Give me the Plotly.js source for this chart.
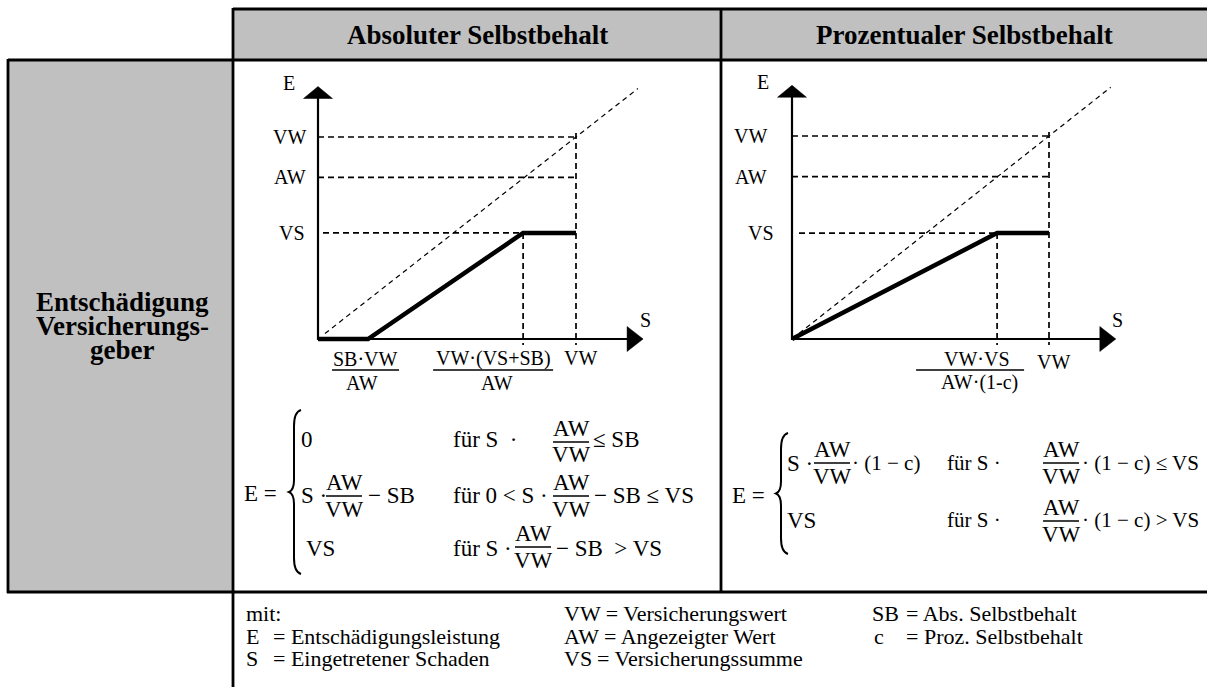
<!DOCTYPE html>
<html><head><meta charset="utf-8">
<script src="https://cdn.plot.ly/plotly-3.0.1.min.js"></script>
<style>html,body{margin:0;padding:0;background:#fff;} #chart{width:1207px;height:687px;}</style>
</head><body><div id="chart"></div>
<script>
const W = 1207, H = 687;

// ---------------- data (schematic values, VW = 100) ----------------
const levelNames   = ['VW', 'AW', 'VS'];
const absLevels    = [100, 80, 52.5];
const absCurveS    = [0, 19.4, 79.5, 100];
const absCurveE    = [0, 0, 52.5, 52.5];
const absBreakS    = [19.4, 79.5, 100];
const absBreakNum  = ['SB·VW', 'VW·(VS+SB)', 'VW'];
const absBreakDen  = ['AW', 'AW', ''];
const proLevels    = [100, 80, 52.2];
const proCurveS    = [0, 79.8, 100];
const proCurveE    = [0, 52.2, 52.2];
const proBreakS    = [79.8, 100];
const proBreakNum  = ['VW·VS', 'VW'];
const proBreakDen  = ['AW·(1-c)', ''];
const diagonal     = [0, 124];
const axisEnd      = [126, 125];
const headers      = ['Absoluter Selbstbehalt', 'Prozentualer Selbstbehalt'];
const rowHeader    = ['Entschädigung', 'Versicherungs-', 'geber'];

// ---------------- helpers ----------------
const FONT = 'Liberation Serif, Times New Roman, serif';
const px = x => x / W;
const py = y => 1 - y / H;
const traces = [], shapes = [], annotations = [];
const layout = {
  width: W, height: H, margin: {l: 0, r: 0, t: 0, b: 0},
  paper_bgcolor: '#ffffff', plot_bgcolor: 'rgba(0,0,0,0)', showlegend: false,
  shapes, annotations
};
function textAt(t, x, y, size, anchor, extra) {
  annotations.push(Object.assign({xref: 'paper', yref: 'paper', x: px(x), y: py(y), text: t,
    showarrow: false, xanchor: anchor || 'left', yanchor: 'middle', borderpad: 0,
    font: {family: FONT, size: size, color: '#000'}}, extra || {}));
}
function lineAt(x0, y0, x1, y1, w, color) {
  shapes.push({type: 'line', xref: 'paper', yref: 'paper', x0: px(x0), y0: py(y0), x1: px(x1), y1: py(y1),
    line: {color: color || '#000', width: w || 2.8}, layer: 'above'});
}
function rectAt(x0, y0, x1, y1, fill) {
  shapes.push({type: 'rect', xref: 'paper', yref: 'paper', x0: px(x0), y0: py(y0), x1: px(x1), y1: py(y1),
    fillcolor: fill, line: {width: 0}, layer: 'below'});
}
function brace(tip, yTop, yBot) {
  const s = tip + 5, e = tip + 12, m = (yTop + yBot) / 2;
  const P = (x, y) => px(x).toFixed(5) + ',' + py(y).toFixed(5);
  const d = 'M' + P(e, yTop) + ' Q' + P(s, yTop + 2) + ' ' + P(s, yTop + 16) +
    ' L' + P(s, m - 12) + ' Q' + P(s, m - 2) + ' ' + P(tip, m) +
    ' Q' + P(s, m + 2) + ' ' + P(s, m + 12) + ' L' + P(s, yBot - 16) +
    ' Q' + P(s, yBot - 2) + ' ' + P(e, yBot);
  shapes.push({type: 'path', xref: 'paper', yref: 'paper', path: d, line: {color: '#000', width: 2}, layer: 'above'});
}
function frac(xc, yBar, num, den, half, fs) {
  textAt(num, xc, yBar - 14, fs, 'center');
  textAt(den, xc, yBar + 13, fs, 'center');
  lineAt(xc - half, yBar, xc + half, yBar, 1.3);
}

// ---------------- table ----------------
rectAt(233, 9, 1207, 60, '#c0c0c0');
rectAt(8, 60, 233, 592, '#c0c0c0');
lineAt(233, 9, 1207, 9);
lineAt(8, 60, 1207, 60);
lineAt(8, 59, 8, 593);
lineAt(233, 8, 233, 687);
lineAt(721, 8, 721, 592);
lineAt(7, 592, 1207, 592);
textAt('<b>' + headers[0] + '</b>', 477, 35, 27, 'center');
textAt('<b>' + headers[1] + '</b>', 964, 35, 27, 'center');
textAt('<b>' + rowHeader[0] + '</b>', 122, 302, 27, 'center');
textAt('<b>' + rowHeader[1] + '</b>', 122, 326, 27, 'center');
textAt('<b>' + rowHeader[2] + '</b>', 122, 350, 27, 'center');

// ---------------- charts ----------------
const charts = [
  {box: [265, 70, 690, 400], ox: 318, oy: 339, sx: 2.58, sy: 2.02,
   levels: absLevels, curveS: absCurveS, curveE: absCurveE, breakS: absBreakS, num: absBreakNum, den: absBreakDen,
   diagGap: 7, vsGap: 5, levelShift: [-11, -11, -12],
   numDX: [-3, -30, 4], numDY: [20, 20, 19], denDX: [-6, -26, 0], barL: [-36, -90, 0], barR: [31, 30, 0]},
  {box: [740, 70, 1180, 400], ox: 792, oy: 339, sx: 2.57, sy: 2.03,
   levels: proLevels, curveS: proCurveS, curveE: proCurveE, breakS: proBreakS, num: proBreakNum, den: proBreakDen,
   diagGap: 0, vsGap: 7, levelShift: [-24, -24, -17],
   numDX: [-20, 4], numDY: [20, 23], denDX: [-18, 0], barL: [-81, 0], barR: [27, 0]}
];

charts.forEach((c, i) => {
  const [l, t, r, b] = c.box;
  const sfx = i === 0 ? '' : String(i + 1);
  const xr = 'x' + sfx, yr = 'y' + sfx;
  layout['xaxis' + sfx] = {domain: [px(l), px(r)], range: [(l - c.ox) / c.sx, (r - c.ox) / c.sx],
    visible: false, fixedrange: true, anchor: yr};
  layout['yaxis' + sfx] = {domain: [py(b), py(t)], range: [(c.oy - b) / c.sy, (c.oy - t) / c.sy],
    visible: false, fixedrange: true, anchor: xr};
  const dx = p => p / c.sx, dy = p => p / c.sy;
  const base = {xaxis: xr, yaxis: yr, hoverinfo: 'skip', type: 'scatter'};
  const vw = c.levels[0], aw = c.levels[1], vs = c.levels[2];
  const sMax = c.breakS[c.breakS.length - 1], corner = c.breakS[c.breakS.length - 2];
  const [aS, aE] = axisEnd;

  // diagonal reference E = S
  const d0 = diagonal[0] + dx(c.diagGap);
  traces.push(Object.assign({}, base, {x: [d0, diagonal[1]], y: [d0, diagonal[1]],
    mode: 'lines', line: {color: '#000', width: 1.2, dash: '5px,4px'}}));
  // guide lines
  traces.push(Object.assign({}, base, {
    x: [0, sMax, null, 0, sMax, null, dx(c.vsGap), corner, null, sMax, sMax, null, corner, corner],
    y: [vw, vw, null, aw, aw, null, vs, vs, null, vw + dy(4), -dy(6), null, vs, -dy(6)],
    mode: 'lines', connectgaps: false, line: {color: '#000', width: 1.7, dash: '6px,4px'}}));
  // axes
  traces.push(Object.assign({}, base, {x: [0, 0, null, 0, aS - dx(14)], y: [-dy(1), aE - dy(10), null, 0, 0],
    mode: 'lines', line: {color: '#000', width: 2.2}}));
  traces.push(Object.assign({}, base, {x: [-dx(14.5), dx(14.5), 0, -dx(14.5)], y: [aE - dy(12), aE - dy(12), aE, aE - dy(12)],
    mode: 'lines', fill: 'toself', fillcolor: '#000', line: {color: '#000', width: 0.5}}));
  traces.push(Object.assign({}, base, {x: [aS - dx(16), aS, aS - dx(16), aS - dx(16)], y: [dy(12.5), 0, -dy(12.5), dy(12.5)],
    mode: 'lines', fill: 'toself', fillcolor: '#000', line: {color: '#000', width: 0.5}}));
  // compensation curve
  traces.push(Object.assign({}, base, {x: c.curveS, y: c.curveE, mode: 'lines', line: {color: '#000', width: 4.5}}));

  const ann = (text, x, y, xs, ys, xa) => annotations.push({xref: xr, yref: yr, x, y, text, showarrow: false,
    xanchor: xa || 'center', yanchor: 'middle', xshift: xs, yshift: ys, borderpad: 0,
    font: {family: FONT, size: 20, color: '#000'}});
  ann('E', 0, aE, -29, 3);
  ann('S', aS, 0, 2, 19);
  c.levels.forEach((v, k) => ann(levelNames[k], 0, v, c.levelShift[k], 0, 'right'));
  c.breakS.forEach((s, k) => {
    ann(c.num[k], s, 0, c.numDX[k], -c.numDY[k]);
    if (c.den[k]) {
      ann(c.den[k], s, 0, c.denDX[k], -44);
      shapes.push({type: 'line', xref: xr, yref: yr, x0: s + dx(c.barL[k]), x1: s + dx(c.barR[k]),
        y0: -dy(31), y1: -dy(31), line: {color: '#000', width: 1.3}});
    }
  });
});

// ---------------- formulas ----------------
const FS = 23, FR = 21;
textAt('E =', 243, 493, FS);
brace(289, 410, 574);
textAt('0', 300, 439, FS);
textAt('für S  ·', 452, 439, FS);
frac(571, 442, 'AW', 'VW', 18, FS);
textAt('≤ SB', 592, 439, FS);
textAt('S ·', 300, 495, FS);
frac(344, 496, 'AW', 'VW', 18, FS);
textAt('− SB', 367, 495, FS);
textAt('für 0 &lt; S ·', 452, 495, FS);
frac(571, 496, 'AW', 'VW', 18, FS);
textAt('− SB ≤ VS', 593, 495, FS);
textAt('VS', 305, 548, FS);
textAt('für S ·', 452, 548, FS);
frac(533, 547, 'AW', 'VW', 18, FS);
textAt('− SB  &gt; VS', 555, 548, FS);

textAt('E =', 731, 495, FS);
brace(776, 433, 554);
textAt('S ·', 786, 463, FS);
frac(832, 463, 'AW', 'VW', 18, FS);
textAt('· (1 − c)', 851, 463, FR);
textAt('für S ·', 946, 463, FR);
frac(1061, 463, 'AW', 'VW', 18, FS);
textAt('· (1 − c) ≤ VS', 1081, 463, FR);
textAt('VS', 786, 520, FS);
textAt('für S ·', 946, 520, FR);
frac(1061, 521, 'AW', 'VW', 18, FS);
textAt('· (1 − c) &gt; VS', 1081, 520, FR);

// ---------------- legend / footnote ----------------
const FF = 22;
textAt('mit:', 245, 613, FF);
textAt('VW = Versicherungswert', 563, 613, FF);
textAt('SB', 871, 613, FF);
textAt('= Abs. Selbstbehalt', 905, 613, FF);
textAt('E', 245, 636, FF);
textAt('= Entschädigungsleistung', 272, 636, FF);
textAt('AW = Angezeigter Wert', 563, 636, FF);
textAt('c', 873, 636, FF);
textAt('= Proz. Selbstbehalt', 905, 636, FF);
textAt('S', 245, 658, FF);
textAt('= Eingetretener Schaden', 272, 658, FF);
textAt('VS', 563, 658, FF);
textAt('= Versicherungssumme', 596, 658, FF);

Plotly.newPlot('chart', traces, layout, {staticPlot: true, displayModeBar: false});
</script>
</body></html>
